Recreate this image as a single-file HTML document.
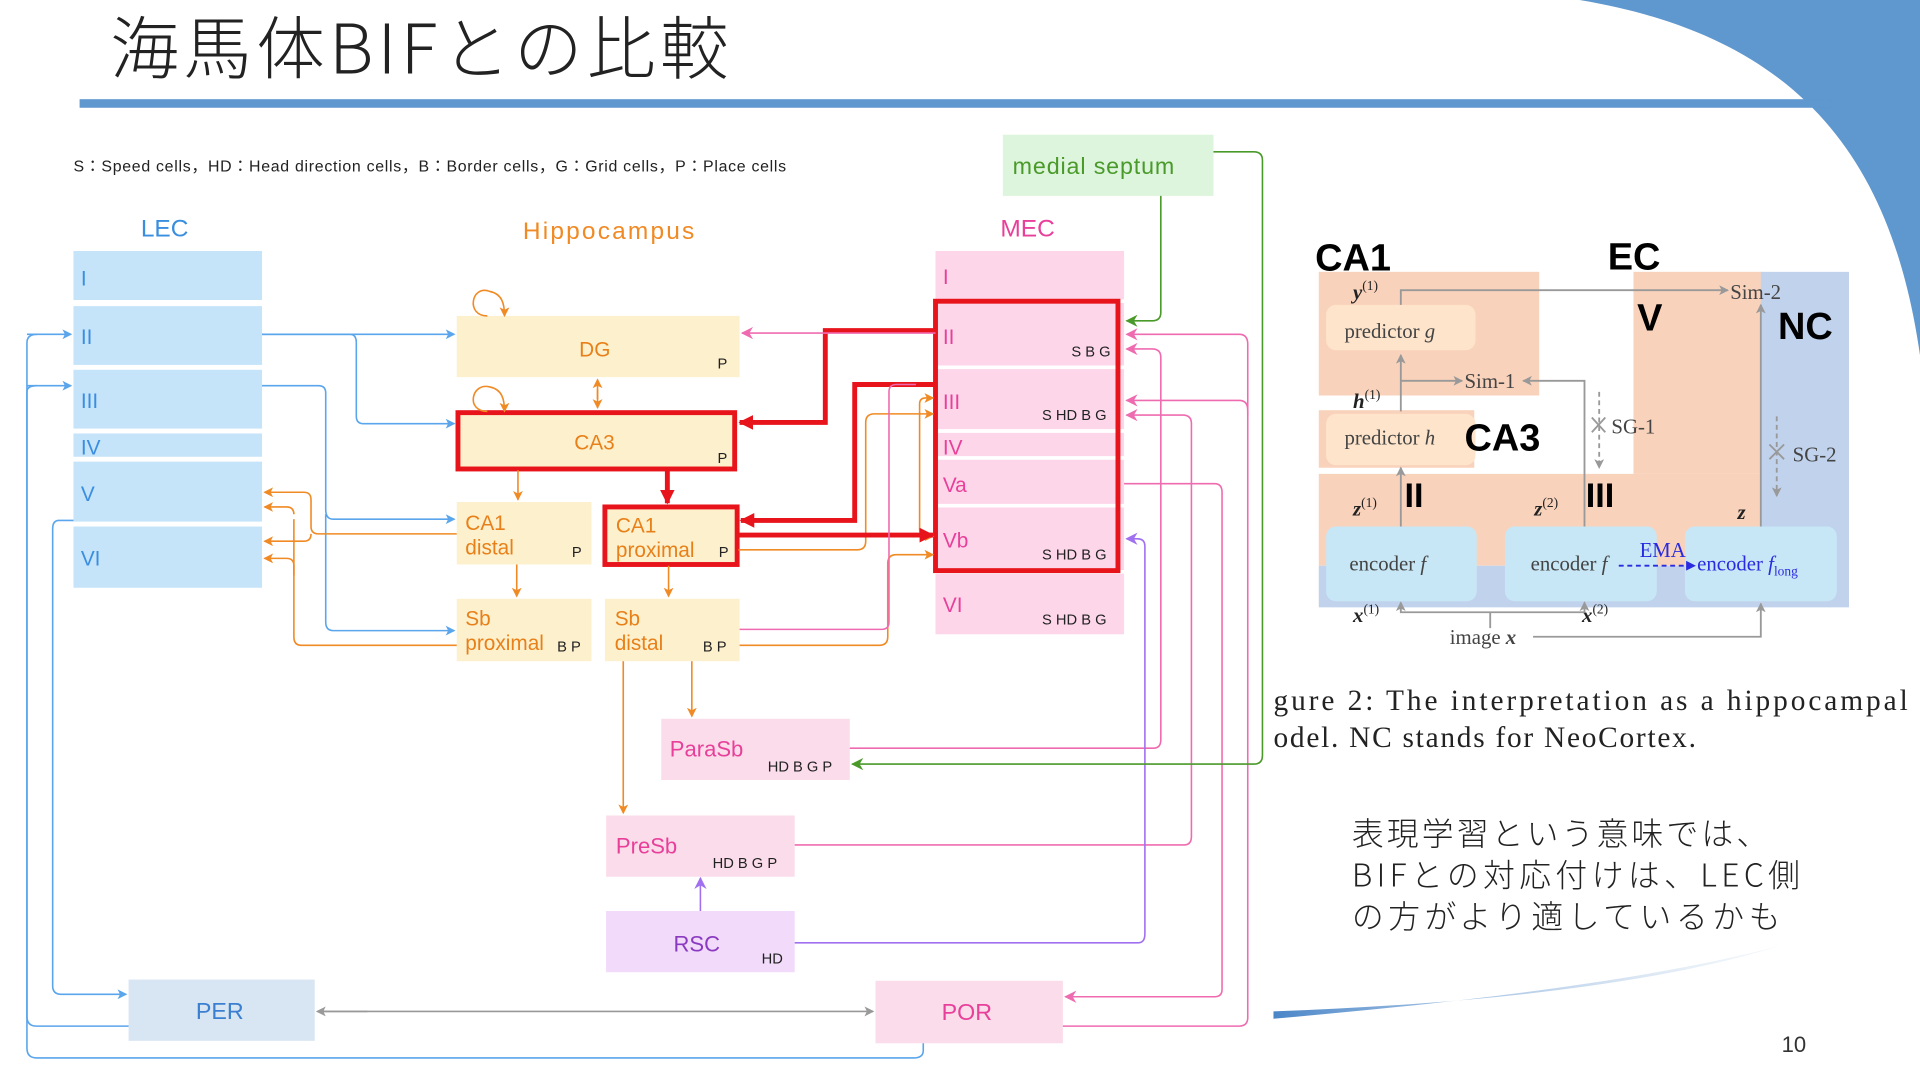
<!DOCTYPE html>
<html><head><meta charset="utf-8"><style>
html,body{margin:0;padding:0;background:#fff;width:1920px;height:1080px;overflow:hidden}
svg{display:block}
.s{font-family:"Liberation Sans","Noto Sans CJK JP",sans-serif}
.r{font-family:"Liberation Serif",serif}
</style></head><body>
<svg width="1920" height="1080" viewBox="0 0 1568 882" preserveAspectRatio="none" xmlns="http://www.w3.org/2000/svg" class="s">
<defs>
<marker id="ab" markerWidth="8" markerHeight="8" refX="7" refY="4" orient="auto" markerUnits="userSpaceOnUse"><path d="M0,0 L8,4 L0,8 L2,4z" fill="#5aa5ec"/></marker>
<marker id="ao" markerWidth="8" markerHeight="8" refX="7" refY="4" orient="auto" markerUnits="userSpaceOnUse"><path d="M0,0 L8,4 L0,8 L2,4z" fill="#f08a24"/></marker>
<marker id="ap" markerWidth="10" markerHeight="10" refX="9" refY="5" orient="auto" markerUnits="userSpaceOnUse"><path d="M0,0 L10,5 L0,10 L3,5z" fill="#ef6bb0"/></marker>
<marker id="ag" markerWidth="10" markerHeight="10" refX="9" refY="5" orient="auto" markerUnits="userSpaceOnUse"><path d="M0,0 L10,5 L0,10 L3,5z" fill="#4a9a2a"/></marker>
<marker id="av" markerWidth="10" markerHeight="10" refX="9" refY="5" orient="auto" markerUnits="userSpaceOnUse"><path d="M0,0 L10,5 L0,10 L3,5z" fill="#a070f0"/></marker>
<marker id="ar" markerWidth="12" markerHeight="12" refX="11" refY="6" orient="auto" markerUnits="userSpaceOnUse"><path d="M0,0 L12,6 L0,12z" fill="#e8141c"/></marker>
<marker id="ay" markerWidth="8" markerHeight="8" refX="7" refY="4" orient="auto" markerUnits="userSpaceOnUse"><path d="M0,0 L8,4 L0,8 L2,4z" fill="#999"/></marker>
<marker id="ae" markerWidth="8" markerHeight="8" refX="7" refY="4" orient="auto" markerUnits="userSpaceOnUse"><path d="M0,0 L8,4 L0,8z" fill="#2a2ae0"/></marker>
<linearGradient id="sw" x1="0" x2="1"><stop offset="0" stop-color="#4a86c8"/><stop offset="1" stop-color="#dfe9f5" stop-opacity="0.3"/></linearGradient>
</defs>

<path d="M1290,0 L1568,0 L1568,290 C1545,130 1470,30 1290,0z" fill="#5f97cf"/>
<path d="M1040,826 C1200,820 1350,805 1455,772 C1350,800 1200,818 1040,832z" fill="url(#sw)"/>

<text x="90" y="60" font-size="56" fill="#222" font-family="'Noto Sans CJK JP',sans-serif" font-weight="300" textLength="505">海馬体BIFとの比較</text>
<rect x="65" y="81" width="1430" height="7" fill="#5f97cf"/>

<text x="60" y="140" font-size="13" fill="#222" textLength="582">S：Speed cells，HD：Head direction cells，B：Border cells，G：Grid cells，P：Place cells</text>

<text x="115" y="193" font-size="20" fill="#3a8ee0">LEC</text>
<text x="427" y="195" font-size="20" fill="#f08a24" textLength="140">Hippocampus</text>
<text x="817" y="193" font-size="20" fill="#e8409a">MEC</text>

<g fill="#c5e3f9">
<rect x="60" y="205" width="154" height="40"/><rect x="60" y="250" width="154" height="48"/>
<rect x="60" y="302" width="154" height="48"/><rect x="60" y="354" width="154" height="19"/>
<rect x="60" y="377" width="154" height="49"/><rect x="60" y="430" width="154" height="50"/>
</g>
<g fill="#3a8ee0" font-size="17"><text x="66" y="233">I</text><text x="66" y="281">II</text><text x="66" y="333">III</text><text x="66" y="371">IV</text><text x="66" y="409">V</text><text x="66" y="462">VI</text></g>

<rect x="819" y="110" width="172" height="50" fill="#ddf4dd"/>
<text x="827" y="142" font-size="19" fill="#4a9a2a" textLength="132">medial septum</text>

<rect x="764" y="205" width="154" height="313" fill="#fdd6ea"/>
<g stroke="#fff" stroke-width="3"><line x1="764" y1="246" x2="918" y2="246"/><line x1="764" y1="300" x2="918" y2="300"/><line x1="764" y1="352" x2="918" y2="352"/><line x1="764" y1="374" x2="918" y2="374"/><line x1="764" y1="413" x2="918" y2="413"/><line x1="764" y1="467" x2="918" y2="467"/></g>
<g fill="#e8409a" font-size="17"><text x="770" y="232">I</text><text x="770" y="281">II</text><text x="770" y="334">III</text><text x="770" y="371">IV</text><text x="770" y="402">Va</text><text x="770" y="447">Vb</text><text x="770" y="500">VI</text></g>
<g fill="#222" font-size="12"><text x="875" y="291">S B G</text><text x="851" y="343">S HD B G</text><text x="851" y="457">S HD B G</text><text x="851" y="510">S HD B G</text></g>
<rect x="764" y="246" width="149" height="220" fill="none" stroke="#e8141c" stroke-width="4"/>

<g fill="#fdf0cc">
<rect x="373" y="258" width="231" height="50"/><rect x="373" y="336" width="227" height="48"/>
<rect x="373" y="410" width="110" height="51"/><rect x="493" y="413" width="110" height="49"/>
<rect x="373" y="489" width="110" height="51"/><rect x="494" y="489" width="110" height="51"/>
</g>
<rect x="374" y="337" width="226" height="46" fill="none" stroke="#e8141c" stroke-width="4"/>
<rect x="494" y="414" width="108" height="47" fill="none" stroke="#e8141c" stroke-width="4"/>
<g fill="#e8801a" font-size="17">
<text x="473" y="291">DG</text><text x="469" y="367">CA3</text>
<text x="380" y="433">CA1</text><text x="380" y="453">distal</text>
<text x="503" y="435">CA1</text><text x="503" y="455">proximal</text>
<text x="380" y="511">Sb</text><text x="380" y="531">proximal</text>
<text x="502" y="511">Sb</text><text x="502" y="531">distal</text>
</g>
<g fill="#222" font-size="12"><text x="586" y="301">P</text><text x="586" y="378">P</text><text x="467" y="455">P</text><text x="587" y="455">P</text><text x="455" y="532">B P</text><text x="574" y="532">B P</text></g>

<rect x="540" y="587" width="154" height="50" fill="#fbdcea"/>
<text x="547" y="618" font-size="18" fill="#e8409a">ParaSb</text><text x="627" y="630" font-size="12" fill="#222">HD B G P</text>
<rect x="495" y="666" width="154" height="50" fill="#fbdcea"/>
<text x="503" y="697" font-size="18" fill="#e8409a">PreSb</text><text x="582" y="709" font-size="12" fill="#222">HD B G P</text>
<rect x="495" y="744" width="154" height="50" fill="#f1dafa"/>
<text x="550" y="777" font-size="18" fill="#8a3ac0">RSC</text><text x="622" y="787" font-size="12" fill="#222">HD</text>
<rect x="105" y="800" width="152" height="50" fill="#d8e5f3"/>
<text x="160" y="832" font-size="19" fill="#3a7fd0">PER</text>
<rect x="715" y="801" width="153" height="51" fill="#fbdcea"/>
<text x="769" y="833" font-size="19" fill="#e8409a">POR</text>

<g fill="none" stroke="#5aa5ec" stroke-width="1.3">
<path d="M214,273 H286 Q291,273 291,280 V340 Q291,346 297,346 H371" marker-end="url(#ab)"/>
<path d="M214,273 H371" marker-end="url(#ab)"/>
<path d="M214,315 H260 Q266,315 266,321 V416 Q266,424 272,424 H371" marker-end="url(#ab)"/>
<path d="M266,420 V508 Q266,515 272,515 H371" marker-end="url(#ab)"/>
<path d="M22,273 H58" marker-end="url(#ab)"/>
<path d="M22,315 H58" marker-end="url(#ab)"/>
<path d="M60,425 H48 Q43,425 43,432 V805 Q43,812 50,812 H103" marker-end="url(#ab)"/>
<path d="M105,838 H30 Q22,838 22,830 V280 Q22,273 30,273"/>
<path d="M754,852 V858 Q754,864 746,864 H30 Q22,864 22,856 V320 Q22,315 30,315"/>
</g>
<g fill="none" stroke="#f08a24" stroke-width="1.3">
<path d="M488,318 V333" marker-end="url(#ao)"/><path d="M488,326 V310" marker-end="url(#ao)"/>
<path d="M423,384 V408" marker-end="url(#ao)"/>
<path d="M422,461 V487" marker-end="url(#ao)"/>
<path d="M546,462 V487" marker-end="url(#ao)"/>
<path d="M565,540 V585" marker-end="url(#ao)"/>
<path d="M509,540 V664" marker-end="url(#ao)"/>
<path d="M373,436 H260 Q254,436 254,430 V408 Q254,402 248,402 H216" marker-end="url(#ao)"/>
<path d="M254,436 Q254,442 248,442 H216" marker-end="url(#ao)"/>
<path d="M373,527 H246 Q240,527 240,520 V462 Q240,456 234,456 H216" marker-end="url(#ao)"/>
<path d="M240,420 Q240,414 234,414 H216" marker-end="url(#ao)"/>
<path d="M240,470 V424"/>
<path d="M604,527 H718 Q725,527 725,520 V460 Q725,453 732,453 H762" marker-end="url(#ao)"/>
<path d="M603,449 H700 Q707,449 707,442 V345 Q707,338 714,338 H762" marker-end="url(#ao)"/>
<path d="M751,335 V330 Q751,325 756,325 H762" marker-end="url(#ao)"/>
<path d="M751,335 V432 Q751,438 756,438 H762" marker-end="url(#ao)"/>
<path d="M398,258 C380,258 385,232 400,238 C410,240 412,248 412,258" marker-end="url(#ao)"/>
<path d="M398,336 C380,336 385,312 400,316 C410,318 412,326 412,336" marker-end="url(#ao)"/>
</g>
<g fill="none" stroke="#e8141c" stroke-width="4">
<path d="M764,270 H674 V345 H604" marker-end="url(#ar)"/>
<path d="M764,314 H698 V425 H605" marker-end="url(#ar)"/>
<path d="M603,437 H762" marker-end="url(#ar)"/>
<path d="M545,384 V411" marker-end="url(#ar)"/>
</g>
<g fill="none" stroke="#ef6bb0" stroke-width="1.3">
<path d="M764,272 H606" marker-end="url(#ap)"/>
<path d="M604,514 H720 Q726,514 726,508 V320 Q726,314 732,314 H748"/>
<path d="M694,611 H942 Q948,611 948,604 V292 Q948,285 941,285 H920" marker-end="url(#ap)"/>
<path d="M649,690 H967 Q973,690 973,683 V346 Q973,339 966,339 H920" marker-end="url(#ap)"/>
<path d="M918,395 H992 Q998,395 998,402 V808 Q998,814 992,814 H870" marker-end="url(#ap)"/>
<path d="M868,838 H1012 Q1019,838 1019,831 V335 Q1019,327 1012,327 H920" marker-end="url(#ap)"/>
<path d="M1019,340 V281 Q1019,273 1012,273 H920" marker-end="url(#ap)"/>
</g>
<path d="M649,770 H929 Q935,770 935,763 V446 Q935,440 929,440 H920" fill="none" stroke="#a070f0" stroke-width="1.3" marker-end="url(#av)"/>
<path d="M572,744 V717" fill="none" stroke="#a070f0" stroke-width="1.3" marker-end="url(#av)"/>
<g fill="none" stroke="#4a9a2a" stroke-width="1.3">
<path d="M948,160 V255 Q948,262 941,262 H920" marker-end="url(#ag)"/>
<path d="M991,124 H1024 Q1031,124 1031,131 V617 Q1031,624 1024,624 H696" marker-end="url(#ag)"/>
</g>
<path d="M263,826 H713" fill="none" stroke="#999" stroke-width="1.3" marker-end="url(#ay)"/>
<path d="M300,826 H259" fill="none" stroke="#999" stroke-width="1.3" marker-end="url(#ay)"/>

<rect x="1077" y="222" width="180" height="101" fill="#f9d2bb"/>
<rect x="1077" y="335" width="127" height="47" fill="#f9d2bb"/>
<rect x="1334" y="222" width="105" height="165" fill="#f9d2bb"/>
<rect x="1438" y="222" width="72" height="274" fill="#c1d2ec"/>
<rect x="1077" y="387" width="361" height="75" fill="#f9d2bb"/>
<rect x="1077" y="462" width="361" height="34" fill="#c1d2ec"/>
<rect x="1083" y="249" width="122" height="37" rx="8" fill="#fde4cb"/>
<rect x="1083" y="338" width="122" height="42" rx="8" fill="#fde4cb"/>
<rect x="1083" y="430" width="123" height="61" rx="8" fill="#c7e7f6"/>
<rect x="1229" y="430" width="124" height="61" rx="8" fill="#c7e7f6"/>
<rect x="1376" y="430" width="124" height="61" rx="8" fill="#c7e7f6"/>
<g font-weight="bold" fill="#000">
<text x="1074" y="221" font-size="31">CA1</text><text x="1313" y="220" font-size="31">EC</text>
<text x="1337" y="270" font-size="31">V</text><text x="1452" y="277" font-size="31">NC</text>
<text x="1196" y="368" font-size="31">CA3</text><text x="1147" y="414" font-size="28">II</text><text x="1295" y="414" font-size="28">III</text>
</g>
<g class="r" fill="#444" font-size="17">
<text x="1098" y="276">predictor <tspan font-style="italic">g</tspan></text>
<text x="1098" y="363">predictor <tspan font-style="italic">h</tspan></text>
<text x="1102" y="466">encoder <tspan font-style="italic">f</tspan></text>
<text x="1250" y="466">encoder <tspan font-style="italic">f</tspan></text>
<text x="1386" y="466" fill="#2a2ae0">encoder <tspan font-style="italic">f</tspan><tspan font-size="11" dy="4">long</tspan></text>
<text x="1339" y="455" fill="#2a2ae0">EMA</text>
<text x="1196" y="317">Sim-1</text><text x="1413" y="244">Sim-2</text>
<text x="1316" y="354">SG-1</text><text x="1464" y="377">SG-2</text>
<text x="1184" y="526">image <tspan font-style="italic" font-weight="bold">x</tspan></text>
<g font-style="italic" font-weight="bold" fill="#222">
<text x="1105" y="244">y<tspan font-size="11" dy="-7" font-weight="normal" font-style="normal">(1)</tspan></text>
<text x="1105" y="333">h<tspan font-size="11" dy="-7" font-weight="normal" font-style="normal">(1)</tspan></text>
<text x="1105" y="421">z<tspan font-size="11" dy="-7" font-weight="normal" font-style="normal">(1)</tspan></text>
<text x="1253" y="421">z<tspan font-size="11" dy="-7" font-weight="normal" font-style="normal">(2)</tspan></text>
<text x="1419" y="424">z</text>
<text x="1105" y="508">x<tspan font-size="11" dy="-7" font-weight="normal" font-style="normal">(1)</tspan></text>
<text x="1292" y="508">x<tspan font-size="11" dy="-7" font-weight="normal" font-style="normal">(2)</tspan></text>
</g>
</g>
<g fill="none" stroke="#999" stroke-width="1.5">
<path d="M1144,430 V382" marker-end="url(#ay)"/>
<path d="M1144,336 V290" marker-end="url(#ay)"/>
<path d="M1144,311 H1194" marker-end="url(#ay)"/>
<path d="M1294,430 V311 H1244" marker-end="url(#ay)"/>
<path d="M1144,249 V237 H1411" marker-end="url(#ay)"/>
<path d="M1438,430 V249" marker-end="url(#ay)"/>
<path d="M1217,513 V500 M1294,500 H1144 V492" marker-end="url(#ay)"/>
<path d="M1294,500 V492" marker-end="url(#ay)"/>
<path d="M1252,520 H1438 V493" marker-end="url(#ay)"/>
<path d="M1306,320 V382" stroke-dasharray="4,3" marker-end="url(#ay)"/>
<path d="M1451,340 V405" stroke-dasharray="4,3" marker-end="url(#ay)"/>
<path d="M1300,341 L1311,353 M1311,341 L1300,353 M1445,363 L1457,375 M1457,363 L1445,375"/>
</g>
<path d="M1322,462 H1384" stroke="#2a2ae0" stroke-width="1.5" stroke-dasharray="4,3" fill="none" marker-end="url(#ae)"/>

<g class="r" fill="#222" font-size="24">
<text x="1040" y="580" textLength="518">gure 2:  The interpretation as a hippocampal</text>
<text x="1040" y="610" textLength="345">odel. NC stands for NeoCortex.</text>
</g>
<g font-size="26" fill="#222" font-family="'Noto Sans CJK JP',sans-serif" font-weight="300">
<text x="1104" y="690" textLength="340">表現学習という意味では、</text>
<text x="1104" y="724" textLength="366">BIFとの対応付けは、LEC側</text>
<text x="1104" y="758" textLength="350">の方がより適しているかも</text>
</g>
<text x="1455" y="859" font-size="18" fill="#333">10</text>
</svg>
</body></html>
